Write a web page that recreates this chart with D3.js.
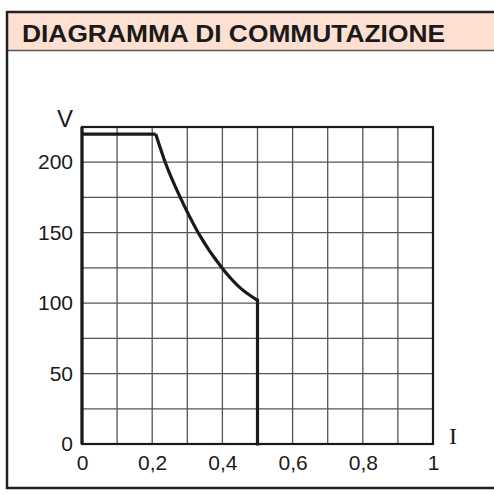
<!DOCTYPE html>
<html>
<head>
<meta charset="utf-8">
<script src="https://cdn.jsdelivr.net/npm/d3@7"></script>
<style>
  body { margin: 0; background: #fff; }
  svg { display: block; }
</style>
</head>
<body>
<div id="chart"></div>
<script>
const titre = "DIAGRAMMA DI COMMUTAZIONE";
const courant = [0, 0.21];               // partie plate
const tension = [220, 220];
const courbeI = [0.21, 0.237, 0.28, 0.331, 0.399, 0.45, 0.5];
const courbeV = [220, 200, 175, 150, 125, 111, 102];
const chuteI = [0.5, 0.5];
const chuteV = [102, 0];
const xTicks = [0, 0.2, 0.4, 0.6, 0.8, 1];
const yTicks = [0, 50, 100, 150, 200];

const W = 494, H = 495;
const margin = {top: 127, right: 61, bottom: 51, left: 82},
    width = W - margin.left - margin.right,
    height = H - margin.top - margin.bottom;

const svg = d3.select("#chart")
    .append("svg")
    .attr("width", W)
    .attr("height", H);

// cadre + bandeau du titre
svg.append("rect")
    .attr("x", 7).attr("y", 12)
    .attr("width", 520).attr("height", 38)
    .attr("fill", "#fde0d2");
svg.append("line")
    .attr("x1", 7).attr("x2", W).attr("y1", 50.5).attr("y2", 50.5)
    .attr("stroke", "#555").attr("stroke-width", 1.5);
svg.append("rect")
    .attr("x", 7).attr("y", 12)
    .attr("width", 520).attr("height", 476)
    .attr("fill", "none")
    .attr("stroke", "#222")
    .attr("stroke-width", 2.5);
svg.append("text")
    .attr("x", 22).attr("y", 42)
    .attr("font-family", "Liberation Sans, Arial, sans-serif")
    .attr("font-weight", "bold")
    .attr("font-size", 24)
    .attr("textLength", 423)
    .attr("lengthAdjust", "spacingAndGlyphs")
    .attr("fill", "#1a1a1a")
    .text(titre);

const g = svg.append("g")
    .attr("transform", `translate(${margin.left},${margin.top})`);

const x = d3.scaleLinear().domain([0, 1]).range([0, width]);
const y = d3.scaleLinear().domain([0, 225]).range([height, 0]);

// grille
g.append("g")
    .selectAll("line")
    .data(d3.range(1, 10).map(d => d / 10))
    .join("line")
    .attr("x1", d => x(d)).attr("x2", d => x(d))
    .attr("y1", 0).attr("y2", height)
    .attr("stroke", "#555").attr("stroke-width", 1.3);
g.append("g")
    .selectAll("line")
    .data(d3.range(1, 9).map(d => d * 25))
    .join("line")
    .attr("x1", 0).attr("x2", width)
    .attr("y1", d => y(d)).attr("y2", d => y(d))
    .attr("stroke", "#555").attr("stroke-width", 1.3);

// cadre du graphique
g.append("rect")
    .attr("width", width).attr("height", height)
    .attr("fill", "none")
    .attr("stroke", "#1a1a1a")
    .attr("stroke-width", 2.2);
g.append("line")
    .attr("x1", 0).attr("x2", 0).attr("y1", 0).attr("y2", height)
    .attr("stroke", "#1a1a1a").attr("stroke-width", 3.2);

// axes (sans traits, seulement les etiquettes)
const xAxis = g.append("g")
    .attr("transform", `translate(0,${height})`)
    .call(d3.axisBottom(x).tickValues(xTicks).tickSize(0).tickPadding(11)
        .tickFormat(d => (d === 0 || d === 1) ? String(d) : d.toFixed(1).replace(".", ",")));
const yAxis = g.append("g")
    .call(d3.axisLeft(y).tickValues(yTicks).tickSize(0).tickPadding(9));
[xAxis, yAxis].forEach(a => {
    a.select(".domain").remove();
    a.selectAll("text")
        .attr("font-family", "Liberation Sans, Arial, sans-serif")
        .attr("font-size", 21)
        .attr("fill", "#1a1a1a");
});

g.append("text")
    .attr("x", -17).attr("y", 0)
    .attr("text-anchor", "middle")
    .attr("font-family", "Liberation Sans, Arial, sans-serif")
    .attr("font-size", 24)
    .attr("fill", "#1a1a1a")
    .text("V");
g.append("text")
    .attr("x", width + 20).attr("y", height)
    .attr("text-anchor", "middle")
    .attr("font-family", "Liberation Serif, serif")
    .attr("font-size", 24)
    .attr("fill", "#1a1a1a")
    .text("I");

// la courbe
const ligne = d3.line()
    .x(d => x(d[0]))
    .y(d => y(d[1]));
const trait = sel => sel
    .attr("fill", "none")
    .attr("stroke", "#1a1a1a")
    .attr("stroke-width", 3.2)
    .attr("stroke-linejoin", "miter");

g.append("path")
    .datum(d3.zip(courant, tension))
    .call(trait)
    .attr("d", ligne);
g.append("path")
    .datum(d3.zip(courbeI, courbeV))
    .call(trait)
    .attr("d", ligne.curve(d3.curveMonotoneX));
g.append("path")
    .datum(d3.zip(chuteI, chuteV))
    .call(trait)
    .attr("stroke-linecap", "square")
    .attr("d", d3.line().x(d => x(d[0])).y(d => y(d[1])));
</script>
</body>
</html>
